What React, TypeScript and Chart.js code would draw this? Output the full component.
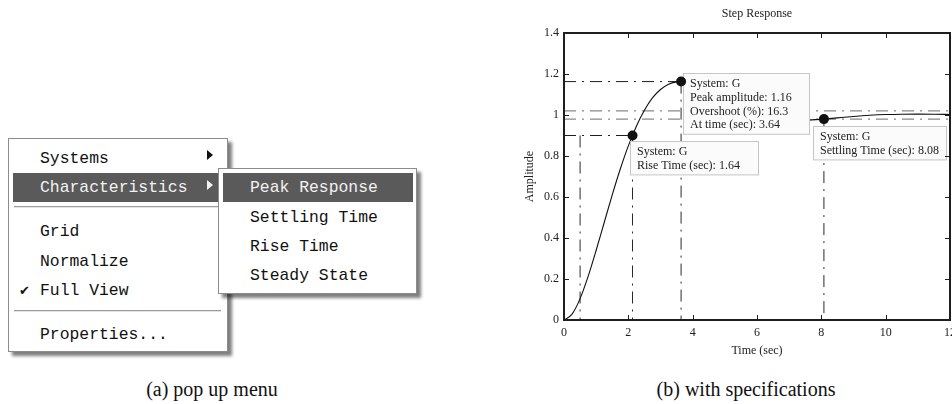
import React, { useEffect, useRef } from "react";
import { Chart, registerables } from "chart.js";

Chart.register(...registerables);

// ---- data ----
const timeSec = [0, 0.25, 0.5, 0.75, 1, 1.25, 1.5, 1.75, 2, 2.25, 2.5, 2.75, 3, 3.25, 3.5, 3.64, 4, 4.5, 5, 5.5, 6, 6.5, 7, 7.25, 7.5, 8, 8.08, 8.5, 9, 9.5, 10, 10.5, 11, 11.5, 12];
const amplitude = [0, 0.0286, 0.1044, 0.2127, 0.3403, 0.4757, 0.6106, 0.7366, 0.8495, 0.9455, 1.0234, 1.0833, 1.1243, 1.1505, 1.1617, 1.163, 1.1535, 1.1185, 1.0745, 1.0336, 1.0023, 0.9829, 0.9743, 0.9734, 0.9742, 0.979, 0.98, 0.986, 0.9929, 0.9985, 1.0022, 1.004, 1.0043, 1.0037, 1.0026];

// characteristic points: rise (90%), peak, settling
const markerTimes = [2.13, 3.64, 8.08];
const markerAmps = [0.9, 1.163, 0.98];
const riseStartTime = 0.5;
const settlingBand = [0.98, 1.02];

const xTickValues = [0, 2, 4, 6, 8, 10, 12];
const yTickValues = [0, 0.2, 0.4, 0.6, 0.8, 1, 1.2, 1.4];

const chartTitle = "Step Response";
const xAxisTitle = "Time (sec)";
const yAxisTitle = "Amplitude";

const riseLabel = ["System: G", "Rise Time (sec): 1.64"];
const peakLabel = ["System: G", "Peak amplitude: 1.16", "Overshoot (%): 16.3", "At time (sec): 3.64"];
const settleLabel = ["System: G", "Settling Time (sec): 8.08"];

const mainMenu = ["Systems", "Characteristics", "Grid", "Normalize", "Full View", "Properties..."];
const subMenu = ["Peak Response", "Settling Time", "Rise Time", "Steady State"];
const captionA = "(a) pop up menu";
const captionB = "(b) with specifications";

// ---- styles ----
const SERIF = "'Liberation Serif', 'Times New Roman', serif";
const MONO = "'Liberation Mono', 'DejaVu Sans Mono', monospace";
const INK = "#222";
const REF_DASH = [12, 6, 2, 6];

const CURVE_INDEX = 0;

const boxes = [
  { idx: 1, lines: peakLabel, dx: 2, dy: -9, w: 126 },
  { idx: 0, lines: riseLabel, dx: -3, dy: 5, w: 128 },
  { idx: 2, lines: settleLabel, dx: -11, dy: 7, w: 133 },
];

const decorPlugin = {
  id: "decor",
  afterDatasetDraw(chart: any, args: any) {
    if (args.index !== CURVE_INDEX) return;
    const { ctx, scales } = chart;
    const xs = scales.x, ys = scales.y;
    ctx.save();
    ctx.font = `12px ${SERIF}`;
    ctx.textAlign = "left";
    ctx.textBaseline = "middle";
    boxes.forEach((b) => {
      const px = xs.getPixelForValue(markerTimes[b.idx]);
      const py = ys.getPixelForValue(markerAmps[b.idx]);
      const left = Math.round(px + b.dx) + 0.5;
      const top = Math.round(py + b.dy) + 0.5;
      const h = b.lines.length * 13.7 + 6;
      ctx.fillStyle = "#fbfbfb";
      ctx.fillRect(left, top, b.w, h);
      ctx.strokeStyle = "#c6c6c6";
      ctx.lineWidth = 1;
      ctx.strokeRect(left, top, b.w, h);
      ctx.fillStyle = INK;
      b.lines.forEach((t, i) => ctx.fillText(t, left + 6.5, top + 10.5 + i * 13.7));
    });
    ctx.restore();
  },
  afterDatasetsDraw(chart: any) {
    const { ctx, chartArea: a, scales } = chart;
    const xs = scales.x, ys = scales.y;
    ctx.save();
    ctx.strokeStyle = "#1e1e1e";
    ctx.lineWidth = 1;
    const seg = (x1: number, y1: number, x2: number, y2: number) => {
      ctx.beginPath();
      ctx.moveTo(x1, y1);
      ctx.lineTo(x2, y2);
      ctx.stroke();
    };
    xs.ticks.forEach((t: any) => {
      const p = Math.round(xs.getPixelForValue(t.value)) + 0.5;
      seg(p, a.bottom, p, a.bottom - 5);
      seg(p, a.top, p, a.top + 5);
    });
    ys.ticks.forEach((t: any) => {
      const p = Math.round(ys.getPixelForValue(t.value)) + 0.5;
      seg(a.left, p, a.left + 5, p);
      seg(a.right, p, a.right - 5, p);
    });
    ctx.lineWidth = 2;
    ctx.strokeRect(a.left, a.top, a.right - a.left, a.bottom - a.top);
    ctx.fillStyle = INK;
    ctx.font = `12px ${SERIF}`;
    ctx.textAlign = "center";
    ctx.textBaseline = "middle";
    ctx.fillText(chartTitle, (a.left + a.right) / 2, a.top - 19);
    ctx.restore();
  },
};

function refLine(points: { x: number; y: number }[], color: string) {
  return {
    data: points,
    showLine: true,
    borderColor: color,
    borderWidth: 1,
    borderDash: REF_DASH,
    pointRadius: 0,
    order: 3,
  };
}

function buildConfig(): any {
  const [tRise, tPeak, tSettle] = markerTimes;
  const [aRise, aPeak, aSettle] = markerAmps;
  const datasets: any[] = [
    {
      data: timeSec.map((t, i) => ({ x: t, y: amplitude[i] })),
      showLine: true,
      borderColor: "#111",
      borderWidth: 1.1,
      pointRadius: 0,
      cubicInterpolationMode: "monotone",
      order: 2,
    },
    {
      data: markerTimes.map((t, i) => ({ x: t, y: markerAmps[i] })),
      showLine: false,
      pointRadius: 5,
      backgroundColor: "#111",
      borderColor: "#111",
      borderWidth: 0,
      order: 1,
    },
    refLine([{ x: 0, y: aPeak }, { x: tPeak, y: aPeak }], "#1e1e1e"),
    refLine([{ x: tPeak, y: aPeak }, { x: tPeak, y: 0 }], "#2a2a2a"),
    refLine([{ x: 0, y: aRise }, { x: tRise, y: aRise }], "#1e1e1e"),
    refLine([{ x: riseStartTime, y: aRise }, { x: riseStartTime, y: 0 }], "#2a2a2a"),
    refLine([{ x: tRise, y: aRise }, { x: tRise, y: 0 }], "#2a2a2a"),
    refLine([{ x: tSettle, y: aSettle }, { x: tSettle, y: 0 }], "#2a2a2a"),
    refLine([{ x: 0, y: settlingBand[1] }, { x: 12, y: settlingBand[1] }], "#6a6a6a"),
    refLine([{ x: 0, y: settlingBand[0] }, { x: 12, y: settlingBand[0] }], "#6a6a6a"),
  ];
  const tickFont = { family: SERIF, size: 12 };
  return {
    type: "scatter",
    data: { datasets },
    options: {
      animation: false,
      responsive: false,
      devicePixelRatio: 1,
      layout: { padding: { left: 0, right: 40, top: 33, bottom: 0 } },
      plugins: { legend: { display: false }, tooltip: { enabled: false }, title: { display: false } },
      scales: {
        x: {
          type: "linear",
          min: 0,
          max: 12,
          afterBuildTicks: (s: any) => { s.ticks = xTickValues.map((v) => ({ value: v })); },
          afterFit: (s: any) => { s.height = 50; },
          grid: { display: false, drawTicks: false },
          border: { display: false },
          ticks: { padding: 6, color: INK, font: tickFont, maxRotation: 0, autoSkip: false, callback: (v: any) => String(v) },
          title: { display: true, text: xAxisTitle, color: INK, font: tickFont, padding: { top: 0, bottom: 12 } },
        },
        y: {
          type: "linear",
          min: 0,
          max: 1.4,
          afterBuildTicks: (s: any) => { s.ticks = yTickValues.map((v) => ({ value: v })); },
          afterFit: (s: any) => { s.width = 64; },
          grid: { display: false, drawTicks: false },
          border: { display: false },
          ticks: { padding: 5, color: INK, font: tickFont, autoSkip: false, callback: (v: any) => String(Math.round(v * 10) / 10) },
          title: { display: true, text: yAxisTitle, color: INK, font: tickFont, padding: { top: 23, bottom: 0 } },
        },
      },
    },
    plugins: [decorPlugin],
  };
}

const abs = (l: number, t: number, w: number, h: number, extra: any = {}) => ({
  position: "absolute" as const, left: l, top: t, width: w, height: h, ...extra,
});

function MenuText({ text, x, cy, color = "#111" }: { text: string; x: number; cy: number; color?: string }) {
  return (
    <div style={{ position: "absolute", left: x, top: cy - 10, height: 20, lineHeight: "20px", fontFamily: MONO, fontSize: 16.4, color, whiteSpace: "pre" }}>
      {text}
    </div>
  );
}

function Arrow({ x, cy, color }: { x: number; cy: number; color: string }) {
  return (
    <div style={{ position: "absolute", left: x, top: cy - 5, width: 0, height: 0, borderTop: "5px solid transparent", borderBottom: "5px solid transparent", borderLeft: `6px solid ${color}` }} />
  );
}

function Separator({ y }: { y: number }) {
  return <div style={abs(14, y, 207, 0, { borderTop: "1px solid #9a9a9a", borderBottom: "1px solid #e4e4e4" })} />;
}

export default function App() {
  const ref = useRef<HTMLCanvasElement>(null);
  useEffect(() => {
    const chart = new Chart(ref.current as HTMLCanvasElement, buildConfig());
    return () => chart.destroy();
  }, []);

  const mainY = [159, 188, 232, 262, 291, 335];
  const subY = [188, 218, 247, 276];

  return (
    <div style={{ position: "fixed", left: 0, top: 0, width: 952, height: 404, overflow: "hidden", background: "#fff" }}>
      {/* main popup menu */}
      <div style={abs(8, 138, 220, 214, { boxSizing: "border-box", border: "1px solid #8c8c8c", background: "#fff", boxShadow: "4px 4px 3px rgba(0,0,0,0.5)" })} />
      <div style={abs(13, 173, 205, 29, { background: "#5a5a5a" })} />
      {mainMenu.map((t, i) => (
        <MenuText key={t} text={t} x={40} cy={mainY[i]} color={i === 1 ? "#f2f2f2" : "#111"} />
      ))}
      <Arrow x={207} cy={155} color="#111" />
      <Arrow x={207} cy={185} color="#f2f2f2" />
      <Separator y={206} />
      <Separator y={310} />
      <div style={{ position: "absolute", left: 19, top: 282, height: 18, lineHeight: "18px", fontFamily: "'DejaVu Sans', sans-serif", fontSize: 13, color: "#111" }}>✔</div>

      {/* sub menu */}
      <div style={abs(218, 168, 199, 126, { boxSizing: "border-box", border: "1px solid #8c8c8c", background: "#fff", boxShadow: "4px 4px 3px rgba(0,0,0,0.5)" })} />
      <div style={abs(223, 173, 190, 29, { background: "#5a5a5a" })} />
      {subMenu.map((t, i) => (
        <MenuText key={t} text={t} x={250} cy={subY[i]} color={i === 0 ? "#f2f2f2" : "#111"} />
      ))}

      {/* chart */}
      <canvas ref={ref} width={490} height={370} style={{ position: "absolute", left: 500, top: 0, width: 490, height: 370 }} />

      {/* captions */}
      <div style={{ position: "absolute", left: 62, top: 377, width: 300, textAlign: "center", fontFamily: SERIF, fontSize: 20, lineHeight: "24px", color: "#111" }}>{captionA}</div>
      <div style={{ position: "absolute", left: 596, top: 377, width: 300, textAlign: "center", fontFamily: SERIF, fontSize: 20, lineHeight: "24px", color: "#111" }}>{captionB}</div>
    </div>
  );
}
